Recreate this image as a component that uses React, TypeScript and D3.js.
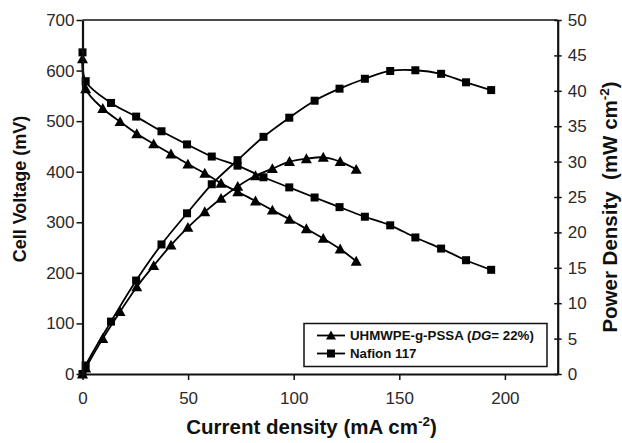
import React, { useEffect, useRef } from 'react';
import * as d3 from 'd3';

// current density (mA cm-2) and readings for each membrane
const uhmwpeCurrent = [0, 1.5, 9.6, 17.8, 25.7, 33.7, 41.9, 49.9, 57.9, 65.6, 73.5, 81.9, 89.9, 98, 106, 114, 122, 129.6];
const uhmwpeVoltage = [623, 564, 525, 499, 475, 455, 435, 415, 397, 377, 360, 342, 324, 306, 287, 268, 247, 223];
const uhmwpePower = [0, 0.85, 5.0, 8.8, 12.3, 15.3, 18.2, 20.7, 22.9, 24.8, 26.5, 28.0, 29.0, 30.0, 30.4, 30.6, 30.0, 28.9];

const nafionCurrent = [0, 1.5, 13.5, 25.4, 37.4, 49.5, 61.2, 73.4, 85.7, 97.9, 109.9, 121.7, 133.7, 145.7, 157.6, 169.8, 181.6, 193.5];
const nafionVoltage = [636, 579, 536, 509, 480, 454, 430, 412, 389, 369, 349, 330, 311, 294, 270, 248, 225, 206];
const nafionPower = [0, 1.2, 7.4, 13.2, 18.3, 22.7, 26.8, 30.2, 33.5, 36.2, 38.6, 40.3, 41.7, 42.8, 42.9, 42.4, 41.2, 40.1];

const xTicks = [0, 50, 100, 150, 200];
const voltTicks = [0, 100, 200, 300, 400, 500, 600, 700];
const powerTicks = [0, 5, 10, 15, 20, 25, 30, 35, 40, 45, 50];

const W = 622;
const H = 443;
const font = 'Arial, "Liberation Sans", sans-serif';

const x = d3.scaleLinear().domain([0, 225]).range([82.5, 557.7]);
const yV = d3.scaleLinear().domain([0, 700]).range([374, 20]);
const yP = d3.scaleLinear().domain([0, 50]).range([374, 20]);

const pairs = (xs: number[], ys: number[]) => xs.map((v, i) => [v, ys[i]] as [number, number]);

const triPath = (cx: number, cy: number, s = 5.5) =>
  `M${cx},${cy - s}L${cx + s},${cy + s * 0.8}L${cx - s},${cy + s * 0.8}Z`;

const Markers = ({ pts, shape, yScale }) => (
  <g>
    {pts.map(([a, b], i) =>
      shape === 'square' ? (
        <rect key={i} x={x(a) - 4} y={yScale(b) - 4} width={8} height={8} fill="#000" />
      ) : (
        <path key={i} d={triPath(x(a), yScale(b))} fill="#000" />
      )
    )}
  </g>
);

export default function App() {
  const leftRef = useRef(null);
  const bottomRef = useRef(null);
  const rightRef = useRef(null);

  useEffect(() => {
    const style = (g) => {
      g.selectAll('text').attr('font-family', font).attr('font-size', 17).attr('fill', '#2a2a2a');
      g.select('.domain').attr('stroke', '#111').attr('stroke-width', 2.2);
      g.selectAll('.tick line').attr('stroke', '#111').attr('stroke-width', 1.5);
    };
    const l = d3.select(leftRef.current);
    l.call(d3.axisLeft(yV).tickValues(voltTicks).tickSize(6).tickSizeOuter(0).tickPadding(2) as any);
    style(l);
    const b = d3.select(bottomRef.current);
    b.call(d3.axisBottom(x).tickValues(xTicks).tickSize(6).tickSizeOuter(0).tickPadding(12) as any);
    style(b);
    const r = d3.select(rightRef.current);
    r.call(d3.axisRight(yP).tickValues(powerTicks).tickSize(4).tickSizeOuter(0).tickPadding(6) as any);
    style(r);
    r.selectAll('.tick line').attr('x1', -3.5);
  }, []);

  const line = d3.line().curve(d3.curveCatmullRom.alpha(0.5));
  const lineV = (xs, ys) => line(pairs(xs, ys).map(([a, b]) => [x(a), yV(b)]));
  const lineP = (xs, ys) => line(pairs(xs, ys).map(([a, b]) => [x(a), yP(b)]));

  return (
    <svg width={W} height={H} style={{ position: 'absolute', left: 0, top: 0, background: '#fff' }}>
      <rect width={W} height={H} fill="#fff" />
      {/* top frame */}
      <line x1={x(0)} x2={x(225)} y1={yV(700)} y2={yV(700)} stroke="#111" strokeWidth={1.3} />

      <g fill="none" stroke="#000" strokeWidth={1.8}>
        <path d={lineV(uhmwpeCurrent, uhmwpeVoltage)} />
        <path d={lineP(uhmwpeCurrent, uhmwpePower)} />
        <path d={lineV(nafionCurrent, nafionVoltage)} />
        <path d={lineP(nafionCurrent, nafionPower)} />
      </g>
      <Markers pts={pairs(uhmwpeCurrent, uhmwpeVoltage)} shape="tri" yScale={yV} />
      <Markers pts={pairs(uhmwpeCurrent, uhmwpePower)} shape="tri" yScale={yP} />
      <Markers pts={pairs(nafionCurrent, nafionVoltage)} shape="square" yScale={yV} />
      <Markers pts={pairs(nafionCurrent, nafionPower)} shape="square" yScale={yP} />

      <g ref={leftRef} transform={`translate(${x(0)},0)`} />
      <g ref={bottomRef} transform={`translate(0,${yV(0)})`} />
      <g ref={rightRef} transform={`translate(${x(225)},0)`} />

      {/* legend */}
      <g transform="translate(304,323.5)" fontFamily={font} fontWeight="bold" fontSize={13.3} fill="#111">
        <rect width={243} height={43} fill="#fff" stroke="#111" strokeWidth={1.5} />
        <line x1={13} x2={41} y1={12} y2={12} stroke="#000" strokeWidth={1.8} />
        <path d={triPath(27, 12, 5)} fill="#000" />
        <text x={46} y={16.5}>
          UHMWPE-g-PSSA (<tspan fontStyle="italic">DG</tspan>= 22%)
        </text>
        <line x1={13} x2={41} y1={30} y2={30} stroke="#000" strokeWidth={1.8} />
        <rect x={23} y={26} width={8} height={8} fill="#000" />
        <text x={46} y={34.5}>Nafion 117</text>
      </g>

      {/* axis titles */}
      <g fontFamily={font} fontWeight="bold" fill="#111">
        <text x={311.5} y={434} textAnchor="middle" fontSize={20.5}>
          Current density (mA cm<tspan dy={-8} fontSize={13.5}>-2</tspan>
          <tspan dy={8}>)</tspan>
        </text>
        <text transform="translate(26,189) rotate(-90)" textAnchor="middle" fontSize={18}>Cell Voltage (mV)</text>
        <text transform="translate(617,207) rotate(-90)" textAnchor="middle" fontSize={20.5} xmlSpace="preserve">
          Power Density  (mW cm<tspan dy={-8} fontSize={13.5}>-2</tspan>
          <tspan dy={8}>)</tspan>
        </text>
      </g>
    </svg>
  );
}
